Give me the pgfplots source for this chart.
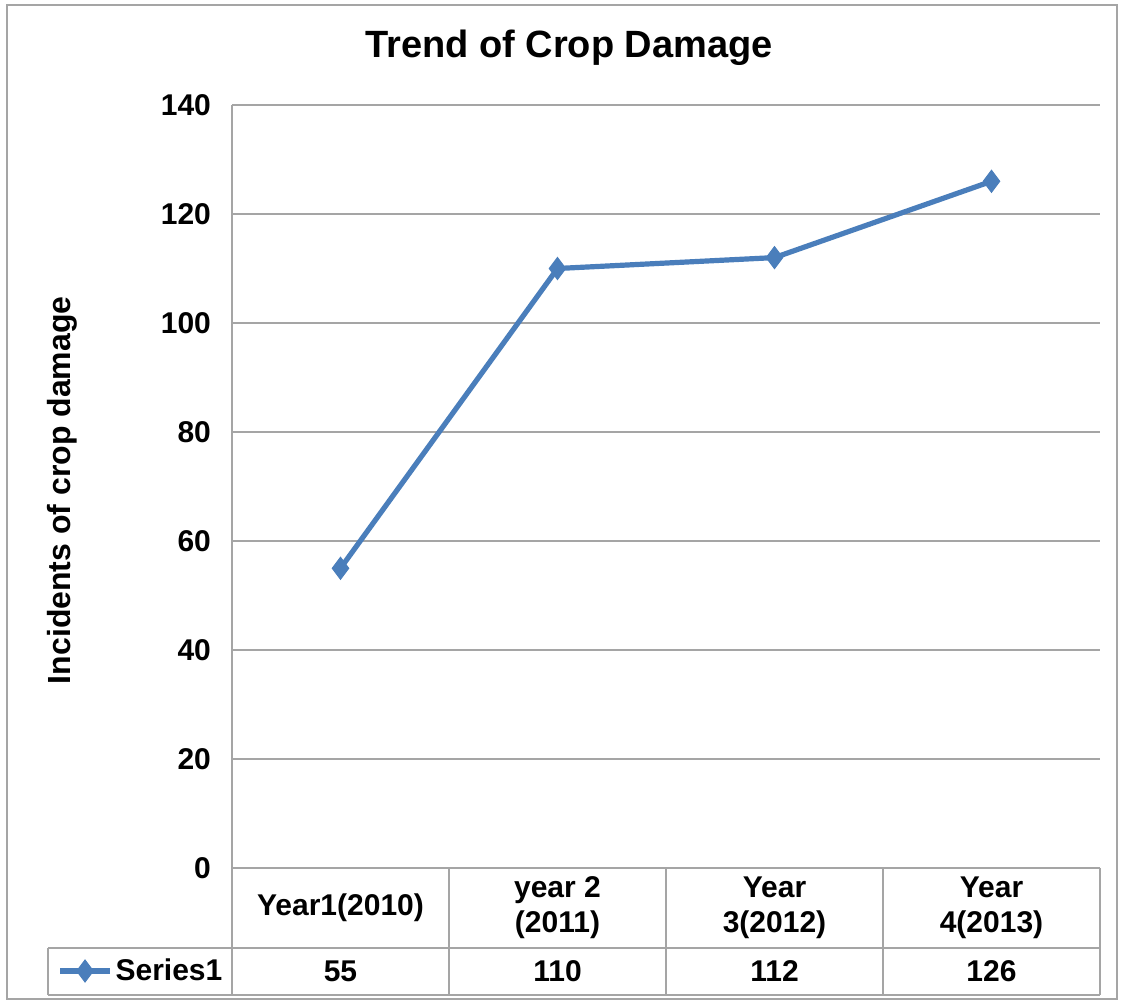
\documentclass[border=0pt]{standalone}
\usepackage{fontspec}
\setmainfont{Liberation Sans}
\usepackage{pgfplots}
\pgfplotsset{compat=1.18}
\definecolor{serblue}{RGB}{74,126,187}
\definecolor{gridgray}{RGB}{165,165,165}
\begin{document}
\begin{tikzpicture}
\useasboundingbox (0pt,0pt) rectangle (560.5pt,501.5pt);
\draw[gridgray, line width=1pt] (3.5pt,2pt) rectangle (558.5pt,499pt);
\begin{axis}[
  at={(116pt,67.5pt)}, anchor=south west,
  scale only axis, width=434pt, height=381.5pt,
  xmin=-0.5, xmax=3.5, ymin=0, ymax=140,
  ytick={0,20,...,140},
  xtick=data,
  xticklabels={Year1(2010), {year 2\\(2011)}, {Year\\3(2012)}, {Year\\4(2013)}},
  major tick length=0pt,
  axis lines*=left,
  axis line style={gridgray, line width=1pt},
  ymajorgrids,
  grid style={gridgray, line width=1pt},
  /pgf/number format/assume math mode=true,
  every tick label/.append style={font=\fontsize{15}{17.5}\selectfont\bfseries, text=black},
  yticklabel style={xshift=-7pt},
  xticklabel style={align=center, anchor=center, yshift=-20pt},
  title={Trend of Crop Damage},
  every axis title/.style={at={(axis description cs:0.3882,1.0747)}, anchor=center, font=\fontsize{19}{22}\selectfont\bfseries},
  ylabel={Incidents of crop damage},
  ylabel style={at={(axis description cs:-0.196,0.495)}, anchor=center, font=\fontsize{16}{19}\selectfont\bfseries},
  clip=false,
  legend style={at={(axis description cs:-0.2016,-0.135)}, anchor=west, draw=none, fill=none, inner sep=0pt,
    font=\fontsize{15}{17.5}\selectfont\bfseries, nodes={inner sep=1.5pt}},
  legend image code/.code={\draw[mark repeat=2,mark phase=2,#1] plot coordinates {(0pt,0pt) (12.5pt,0pt) (25pt,0pt)};},
]
\addplot[serblue, line width=2.6pt, mark=diamond*, mark size=5.5pt, mark options={line width=0.5pt, fill=serblue}]
  coordinates {(0,55) (1,110) (2,112) (3,126)};
\addlegendentry{Series1}
\node[font=\fontsize{15}{17.5}\selectfont\bfseries] at (axis cs:0,-18.9) {55};
\node[font=\fontsize{15}{17.5}\selectfont\bfseries] at (axis cs:1,-18.9) {110};
\node[font=\fontsize{15}{17.5}\selectfont\bfseries] at (axis cs:2,-18.9) {112};
\node[font=\fontsize{15}{17.5}\selectfont\bfseries] at (axis cs:3,-18.9) {126};
\end{axis}
% data table grid
\begin{scope}[gridgray, line width=1pt]
\foreach \x in {116,224.5,333,441.5,550} \draw (\x pt,67.5pt) -- (\x pt,4pt);
\draw (24pt,27.5pt) -- (550pt,27.5pt);
\draw (24pt,4pt) -- (550pt,4pt);
\draw (24pt,27.5pt) -- (24pt,4pt);
\end{scope}
\end{tikzpicture}
\end{document}
